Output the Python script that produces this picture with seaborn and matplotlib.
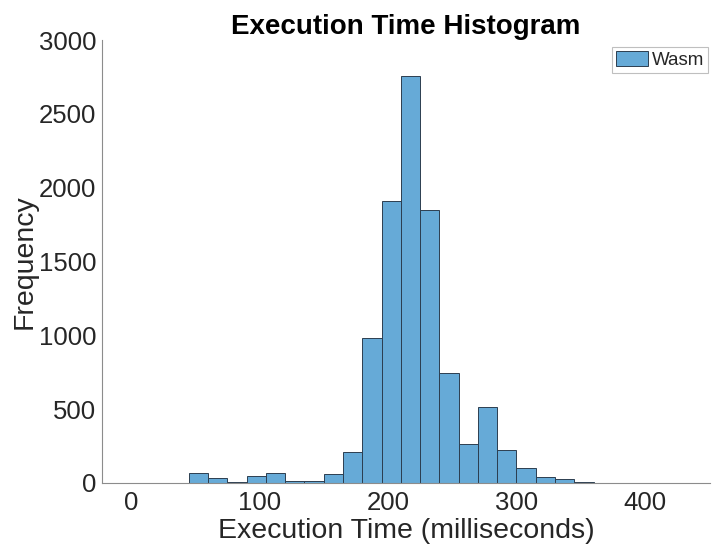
import numpy as np
import pandas as pd
import matplotlib
matplotlib.use("Agg")
import matplotlib.pyplot as plt
import seaborn as sns

# Histogram data (bin width 15 ms, from 0 to 435 ms)
bin_edges = list(range(0, 436, 15))
counts = [2, 2, 0, 70, 35, 5, 45, 68, 14, 14, 61, 210, 982, 1909, 2755, 1848,
          745, 262, 518, 225, 104, 38, 27, 9, 2, 1, 1, 1, 1]
series_name = "Wasm"
x_ticks = [0, 100, 200, 300, 400]
y_ticks = [0, 500, 1000, 1500, 2000, 2500, 3000]

centers = [(bin_edges[i] + bin_edges[i + 1]) / 2 for i in range(len(counts))]
df = pd.DataFrame({"time": centers, "count": counts, "series": series_name})

sns.set_style("white")
plt.rcParams["font.family"] = ["Liberation Sans", "DejaVu Sans"]

fig = plt.figure(figsize=(7.12, 5.55), dpi=100)
ax = fig.add_axes([102 / 712, 1 - 483 / 555, (710 - 102) / 712, (483 - 40) / 555])

face = "#66AAD7"
sns.histplot(data=df, x="time", weights="count", bins=bin_edges, ax=ax,
             color=face, alpha=1.0, edgecolor="#2c3e50", linewidth=0.7,
             label=series_name)

ax.set_xlim(-22.6, 450.6)
ax.set_ylim(0, 3000)
ax.set_xticks(x_ticks)
ax.set_yticks(y_ticks)
ax.tick_params(axis="both", direction="in", length=5, width=0.8, color="#707070",
               labelsize=18.5, labelcolor="#262626")
ax.tick_params(axis="y", pad=4)
ax.tick_params(axis="x", pad=6)
for s in ["top", "right"]:
    ax.spines[s].set_visible(False)
for s in ["left", "bottom"]:
    ax.spines[s].set_color("#8c8c8c")
    ax.spines[s].set_linewidth(0.8)

ax.set_xlabel("Execution Time (milliseconds)", fontsize=20.5, color="#262626", labelpad=2)
ax.set_ylabel("Frequency", fontsize=20.5, color="#262626", labelpad=1)
ax.set_title("Execution Time Histogram", fontsize=20, fontweight="bold", color="black", pad=4)

leg = ax.legend(loc="upper right", fontsize=13.5, frameon=True, fancybox=False,
                edgecolor="#b0b0b0", borderpad=0.2, handlelength=1.7, handleheight=0.9,
                handletextpad=0.2, borderaxespad=0.0, bbox_to_anchor=(0.9967, 0.984))
leg.get_frame().set_linewidth(0.8)

fig.savefig("out.png", dpi=100)
